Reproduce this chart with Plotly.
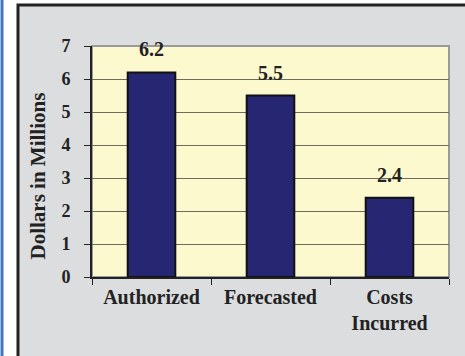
import plotly.graph_objects as go

categories = ["Authorized", "Forecasted", "Costs<br>Incurred"]
values = [6.2, 5.5, 2.4]
value_labels = ["6.2", "5.5", "2.4"]
y_ticks = [0, 1, 2, 3, 4, 5, 6, 7]
y_title = "Dollars in Millions"

W, H = 465, 356
L, R, T, B = 92, 16, 46, 79
pw = W - L - R
ph = H - T - B

def px_x(p):
    return (p - L) / pw

def px_y(p):
    return (H - B - p) / ph

FONT = "Liberation Serif"
TXT = "#222222"

fig = go.Figure()
fig.add_trace(go.Bar(
    x=categories, y=values,
    marker=dict(color="#262673", line=dict(color="#111111", width=2)),
    width=0.40, hoverinfo="skip",
))

for c, v, t in zip(categories, values, value_labels):
    fig.add_annotation(x=c, y=v, text=t, showarrow=False,
                       yshift=23, font=dict(family=FONT, size=20, color=TXT, weight="bold"))

fig.add_annotation(xref="paper", yref="paper", x=px_x(37), y=px_y(176.5),
                   text=y_title, textangle=-90, showarrow=False,
                   xanchor="center", yanchor="middle",
                   font=dict(family=FONT, size=21, color=TXT, weight="bold"))

shapes = [
    dict(type="rect", xref="paper", yref="paper", layer="below",
         x0=px_x(18), x1=px_x(475), y0=px_y(5), y1=px_y(370),
         fillcolor="#dcdddf", line=dict(color="#222222", width=3)),
    dict(type="rect", xref="paper", yref="paper", layer="below",
         x0=0, x1=1, y0=0, y1=1, fillcolor="#fdf9cf",
         line=dict(color="#9a9a9a", width=2)),
    dict(type="rect", xref="paper", yref="paper", layer="below",
         x0=px_x(0.5), x1=px_x(3.5), y0=px_y(-5), y1=px_y(370),
         fillcolor="#3f78c0", line=dict(width=0)),
]

fig.update_layout(
    width=W, height=H,
    margin=dict(l=L, r=R, t=T, b=B),
    paper_bgcolor="white",
    plot_bgcolor="rgba(0,0,0,0)",
    showlegend=False,
    shapes=shapes,
    font=dict(family=FONT, color=TXT),
    xaxis=dict(
        automargin=False,
        showgrid=False, showline=True, linecolor="#222222", linewidth=2,
        ticks="outside", ticklen=6, tickcolor="#222222", tickson="boundaries",
        ticklabelstandoff=1,
        tickfont=dict(family=FONT, size=20, color=TXT, weight="bold"),
    ),
    yaxis=dict(
        automargin=False,
        range=[0, 7], tickvals=y_ticks,
        showgrid=True, gridcolor="#6f6c5e", gridwidth=1,
        showline=True, linecolor="#222222", linewidth=2,
        ticks="outside", ticklen=6, tickcolor="#222222",
        ticklabelstandoff=10,
        tickfont=dict(family=FONT, size=18, color=TXT, weight="bold"),
        zeroline=False,
    ),
)

fig.write_html("out.html", config={"displayModeBar": False},
               post_script="document.body.style.margin='0';document.body.style.overflow='hidden';")
